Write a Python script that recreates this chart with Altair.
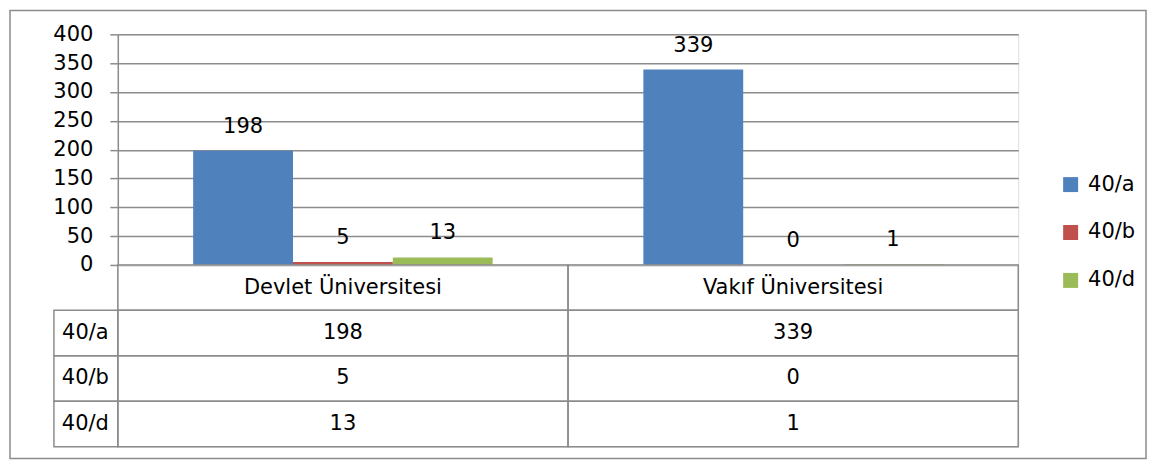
import altair as alt
import pandas as pd

categories = ["Devlet Üniversitesi", "Vakıf Üniversitesi"]
series = ["40/a", "40/b", "40/d"]
val_40a = [198, 339]
val_40b = [5, 0]
val_40d = [13, 1]
y_ticks = [0, 50, 100, 150, 200, 250, 300, 350, 400]
colors = ["#4F81BD", "#C0504D", "#9BBB59"]

FONT = "DejaVu Sans"
FS = 21
GRAY = "#8c8c8c"

series_vals = {"40/a": val_40a, "40/b": val_40b, "40/d": val_40d}
rows = []
for s in series:
    for c, v in zip(categories, series_vals[s]):
        rows.append({"Universite": c, "Seri": s, "Deger": v})
df = pd.DataFrame(rows)

table_rows = [""] + series
cells = []
for i, c in enumerate(categories):
    cells.append({"Universite": c, "Satir": "", "Metin": c})
    for s in series:
        cells.append({"Universite": c, "Satir": s, "Metin": str(series_vals[s][i])})
cells_df = pd.DataFrame(cells)
label_df = pd.DataFrame({"Satir": series})
frame_df = pd.DataFrame({"k": [0]})

x_enc = alt.X("Universite:N", sort=categories,
              scale=alt.Scale(domain=categories, paddingInner=0, paddingOuter=0), axis=None)
xo_enc = alt.XOffset("Seri:N", sort=series,
                     scale=alt.Scale(domain=series, paddingInner=0, paddingOuter=0.755))
y_enc = alt.Y("Deger:Q", scale=alt.Scale(domain=[0, 400], nice=False),
              axis=alt.Axis(values=y_ticks, title=None, grid=True, gridColor=GRAY, gridWidth=1.5,
                            domainColor=GRAY, domainWidth=1.5, tickColor=GRAY, tickWidth=1.5,
                            tickSize=8, labelPadding=17, labelFontSize=FS, labelFont=FONT,
                            labelColor="black", labelOverlap=False, labelBound=False,
                            labelFlush=False))

base = alt.Chart(df)
bars = base.mark_bar().encode(
    x=x_enc, xOffset=xo_enc, y=y_enc,
    color=alt.Color("Seri:N", sort=series, scale=alt.Scale(domain=series, range=colors),
                    legend=alt.Legend(title=None, orient="none", legendX=944, legendY=140,
                                      symbolType="square", symbolSize=225, symbolStrokeWidth=0,
                                      labelFontSize=FS, labelFont=FONT, labelColor="black",
                                      rowPadding=26, labelOffset=7)),
)
labels = base.mark_text(dy=-18, baseline="alphabetic", fontSize=FS, font=FONT, color="black").encode(
    x=x_enc, xOffset=xo_enc, y=y_enc, text="Deger:Q"
)
frame = alt.Chart(frame_df).mark_rect(fillOpacity=0, stroke=GRAY, strokeWidth=1.5).encode(
    x=alt.value(-108), x2=alt.value(1030), y=alt.value(-24), y2=alt.value(425)
)
top = alt.layer(frame, bars, labels).properties(width=902, height=231)

y_tab = alt.Y("Satir:N", sort=table_rows,
              scale=alt.Scale(domain=table_rows, paddingInner=0, paddingOuter=0),
              axis=alt.Axis(title=None, ticks=False, domain=False, labelPadding=33,
                            labelAlign="center", labelFontSize=FS, labelFont=FONT,
                            labelColor="black"))
cell_rect = alt.Chart(cells_df).mark_rect(fillOpacity=0, stroke=GRAY, strokeWidth=1.5).encode(
    x=x_enc, y=y_tab
)
cell_text = alt.Chart(cells_df).mark_text(fontSize=FS, font=FONT, color="black").encode(
    x=x_enc, y=y_tab, text="Metin:N"
)
label_rect = alt.Chart(label_df).mark_rect(fillOpacity=0, stroke=GRAY, strokeWidth=1.5).encode(
    x=alt.value(-64), x2=alt.value(0), y=y_tab
)
bottom = alt.layer(cell_rect, label_rect, cell_text).properties(width=902, height=182)

chart = alt.vconcat(top, bottom, spacing=0, bounds="flush").properties(padding=0).configure_view(
    stroke=None
).configure(background="white")

chart.save("out.html", embed_options={"renderer": "svg", "actions": False})
